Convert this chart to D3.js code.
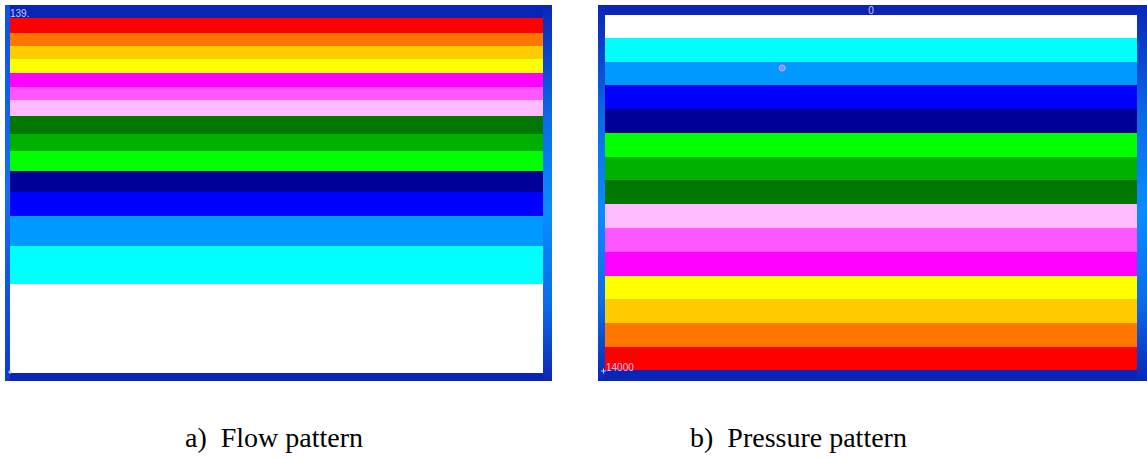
<!DOCTYPE html>
<html>
<head>
<meta charset="utf-8">
<script src="https://cdn.jsdelivr.net/npm/d3@7"></script>
<style>
  html, body { margin: 0; padding: 0; background: #ffffff; }
  svg { display: block; }
  .caption { font-family: "Liberation Serif", "Times New Roman", Times, "DejaVu Serif", serif; font-size: 28px; fill: #000; white-space: pre; }
  .corner { font-family: "Liberation Sans", Arial, sans-serif; font-size: 10px; fill: #c8c8ff; }
</style>
</head>
<body>
<div id="chart"></div>
<script>
// Contour band colours, top to bottom of the flow panel
const flowColors = [
  "#ff0000", "#ff7700", "#ffcc00", "#ffff00", "#ff00ff", "#ff55ff", "#ffbbff",
  "#007700", "#00b000", "#00ff00", "#000099", "#0000ff", "#0099ff", "#00ffff", "#ffffff"
];
// Band edges as percent of panel depth
const flowEdges = [0, 4.1, 8.0, 11.6, 15.5, 19.3, 23.2, 27.7, 32.6, 37.6, 43.2, 48.9, 55.9, 64.2, 74.9, 100];

// Pressure panel: colours top to bottom and band edges in pressure units
const pressureColors = [
  "#ffffff", "#00ffff", "#0099ff", "#0000ff", "#000099", "#00ff00", "#00b000",
  "#007700", "#ffbbff", "#ff55ff", "#ff00ff", "#ffff00", "#ffcc00", "#ff7700", "#ff0000"
];
const pressureEdges = [0, 920, 1865, 2760, 3720, 4665, 5590, 6505, 7465, 8390, 9360, 10290, 11210, 12135, 13080, 14000];

const flowLabel = "139.";
const pressureLabels = { top: "0", bottom: "14000" };
const captions = ["a)  Flow pattern", "b)  Pressure pattern"];
// small probe marker on the pressure panel (x fraction, pressure)
const probe = [{ x: 0.333, p: 2090 }];

const W = 1147, H = 458;
const svg = d3.select("#chart").append("svg").attr("width", W).attr("height", H);
const defs = svg.append("defs");

function edgeGradient(id, stops) {
  const g = defs.append("linearGradient").attr("id", id)
    .attr("x1", 0).attr("y1", 0).attr("x2", 0).attr("y2", 1);
  g.selectAll("stop").data(stops).enter().append("stop")
    .attr("offset", d => d[0] + "%")
    .attr("stop-color", d => d[1]);
}
edgeGradient("edge-soft", [[0, "#1050e0"], [50, "#1270f0"], [100, "#0c3ccc"]]);
edgeGradient("edge-bright", [[0, "#0a26b8"], [30, "#0c6ae8"], [55, "#0a8cff"], [80, "#0c6ae8"], [100, "#0a26b8"]]);

const panels = [
  { frame: { x: 5, y: 5, w: 547, h: 376 }, inner: { x: 10, y: 18, w: 533, h: 355 },
    leftEdge: "url(#edge-soft)", rightEdge: "url(#edge-bright)",
    domain: [0, 100], edges: flowEdges, colors: flowColors },
  { frame: { x: 598, y: 5, w: 549, h: 376 }, inner: { x: 605, y: 15, w: 532, h: 355 },
    leftEdge: "url(#edge-bright)", rightEdge: "url(#edge-bright)",
    domain: [0, 14000], edges: pressureEdges, colors: pressureColors }
];

panels.forEach(function (p) {
  const g = svg.append("g");
  const f = p.frame, r = p.inner;
  // window frame
  g.append("rect").attr("x", f.x).attr("y", f.y).attr("width", f.w).attr("height", f.h).attr("fill", "#0a24b6");
  g.append("rect").attr("x", f.x).attr("y", f.y).attr("width", r.x - f.x).attr("height", f.h).attr("fill", p.leftEdge);
  g.append("rect").attr("x", r.x + r.w).attr("y", f.y).attr("width", f.x + f.w - r.x - r.w).attr("height", f.h).attr("fill", p.rightEdge);

  const x = d3.scaleLinear().domain([0, 1]).range([r.x, r.x + r.w]);
  const y = d3.scaleLinear().domain(p.domain).range([r.y, r.y + r.h]);
  p.x = x; p.y = y;

  const bands = p.colors.map((c, i) => ({ color: c, from: p.edges[i], to: p.edges[i + 1] }));
  g.selectAll("rect.band").data(bands).enter().append("rect")
    .attr("class", "band")
    .attr("x", x(0))
    .attr("width", x(1) - x(0))
    .attr("y", d => y(d.from))
    .attr("height", d => y(d.to) - y(d.from))
    .attr("fill", d => d.color)
    .attr("shape-rendering", "crispEdges");
});

// corner labels
const pp = panels[1];
svg.append("text").attr("class", "corner").attr("x", 10).attr("y", 17).text(flowLabel);
svg.append("text").attr("class", "corner").attr("x", pp.x(0.5)).attr("y", 14)
  .attr("text-anchor", "middle").text(pressureLabels.top);
svg.append("text").attr("class", "corner").attr("x", 606).attr("y", 371).text(pressureLabels.bottom);
svg.append("path").attr("d", "M601,371h5M603.5,368.5v5").attr("stroke", "#c8c8ff").attr("stroke-width", 1);
svg.append("path").attr("d", "M8,372h4M10,370v4").attr("stroke", "#c8c8ff").attr("stroke-width", 1);

// probe marker
svg.selectAll("circle.probe").data(probe).enter().append("circle")
  .attr("class", "probe")
  .attr("cx", d => pp.x(d.x)).attr("cy", d => pp.y(d.p)).attr("r", 3)
  .attr("fill", "#9a86ff").attr("stroke", "#c0b0ff").attr("stroke-width", 1);

// captions
svg.selectAll("text.caption").data(captions).enter().append("text")
  .attr("class", "caption")
  .attr("x", (d, i) => i === 0 ? 185 : 690)
  .attr("y", 447)
  .text(d => d);
</script>
</body>
</html>
